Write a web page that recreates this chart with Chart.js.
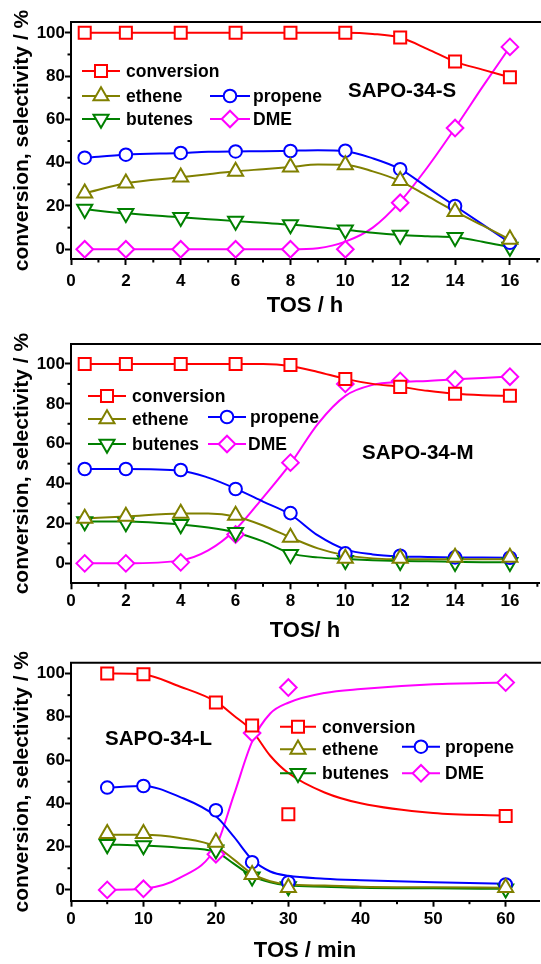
<!DOCTYPE html>
<html><head><meta charset="utf-8">
<script src="https://cdn.jsdelivr.net/npm/chart.js@4"></script>
<style>
html,body{margin:0;padding:0;background:#fff;width:541px;height:964px;overflow:hidden}
.p{position:absolute;left:0;width:541px}
</style></head><body>
<div class="p" style="top:0;height:318px"><canvas id="c1"></canvas></div>
<div class="p" style="top:318px;height:326px"><canvas id="c2"></canvas></div>
<div class="p" style="top:644px;height:320px"><canvas id="c3"></canvas></div>
<script>
// ---------- DATA ----------
const seriesNames = ['conversion', 'ethene', 'propene', 'butenes', 'DME'];

// SAPO-34-S (TOS / h)
const tosS     = [0.5, 2, 4, 6, 8, 10, 12, 14, 16];
const convS    = [100, 100, 100, 100, 100, 100, 97.8, 86.7, 79.5];
const etheneS  = [25.9, 30.5, 33.3, 36, 37.9, 39, 31.7, 17.4, 4.6];
const propeneS = [42.3, 43.7, 44.5, 45.2, 45.4, 45.5, 37, 20, 3];
const butenesS = [18.5, 16.6, 14.8, 13, 11.4, 9, 6.6, 5.5, 1];
const dmeS     = [0, 0, 0, 0, 0, 0, 21.5, 56, 93.5];
// fitted curves
const tosSFit     = [0.5, 2, 4, 5, 6, 7, 8, 9, 10, 11, 12, 13, 14, 15, 16];
const convSFit    = [100, 100, 100, 100, 100, 100, 100, 100, 100, 99.5, 97.8, 92.5, 86.7, 83, 79.5];
const etheneSFit  = [25.9, 30.5, 33.3, 34.7, 36, 37, 38, 39.2, 39, 36, 31.5, 24.5, 17.5, 11, 4.5];
const propeneSFit = [42.3, 43.7, 44.5, 45, 45.2, 45.3, 45.5, 45.7, 45.3, 42, 37, 28.5, 20, 11.5, 3];
const butenesSFit = [18.5, 16.6, 14.8, 13.9, 13, 12.2, 11.4, 10.3, 9, 7.6, 6.6, 6, 5.5, 3.5, 1];
const dmeSFit     = [0, 0, 0, 0, 0, 0, 0, 0.5, 3.5, 10, 22, 38, 56, 75, 93.5];

// SAPO-34-M (TOS / h)
const tosM     = [0.5, 2, 4, 6, 8, 10, 12, 14, 16];
const convM    = [100, 100, 100, 100, 99.5, 92.5, 88.5, 85, 84];
const etheneM  = [22.5, 23.5, 25, 24, 13, 2.5, 2.5, 3, 3];
const propeneM = [47.3, 47.3, 46.8, 37.3, 25.2, 5, 3.8, 3, 2.8];
const butenesM = [21, 20.5, 19.5, 15.5, 4.5, 1.5, 1, 0.5, 0.5];
const dmeM     = [0, 0, 0.5, 14.5, 50.5, 90, 91.5, 92.3, 93.6];
const tosMFit     = [0.5, 2, 4, 5, 6, 7, 8, 9, 10, 11, 12, 13, 14, 15, 16];
const convMFit    = [100, 100, 100, 100, 100, 100, 99, 96, 92.5, 90, 88.5, 86.5, 85, 84.3, 84];
const etheneMFit  = [22.5, 23.5, 25, 25, 23.5, 19, 13, 7.5, 4, 2.5, 2, 2, 2, 2, 2];
const propeneMFit = [47.3, 47.3, 46.5, 43, 37.5, 31, 24.5, 14, 7, 4.5, 3.5, 3.2, 3, 2.9, 2.8];
const butenesMFit = [21, 21, 19.5, 18, 15.5, 11, 5, 3, 2.2, 1.6, 1.2, 1, 0.8, 0.6, 0.5];
const dmeMFit     = [0, 0, 1.5, 6.5, 17, 33, 50, 70, 84, 89.5, 91, 91.5, 92.3, 93, 93.6];

// SAPO-34-L (TOS / min)
const tosL     = [5, 10, 20, 25, 30, 60];
const convL    = [100, 99.7, 86.6, 76, 35, 34.2];
const etheneL  = [26, 26, 22, 7, 1, 1];
const propeneL = [47.3, 48, 36.8, 12.8, 3.5, 2.5];
const butenesL = [21, 20.5, 18.5, 6, 1.5, 0.5];
const dmeL     = [0, 0.5, 16.5, 72.5, 93.5, 95.8];
const tosLFit     = [5, 10, 15, 20, 22.5, 25, 27.5, 30, 35, 40, 50, 60];
const convLFit    = [100, 99.5, 94, 87, 80.5, 73.5, 62, 54, 45, 40, 35.5, 34.3];
const etheneLFit  = [25.5, 25.5, 24, 20, 14, 7.5, 4, 2.5, 2, 1.5, 1.2, 1];
const propeneLFit = [47.3, 48, 43, 34, 24.5, 14, 8.5, 6.5, 5.2, 4.5, 3.5, 2.8];
const butenesLFit = [21, 20.5, 19.5, 17.5, 12, 6.5, 3.5, 2, 1.5, 1, 0.7, 0.5];
const dmeLFit     = [0, 0.5, 5.5, 20, 44, 68.5, 81.5, 86.5, 91, 92.8, 95, 95.8];

const yTicks = [0, 20, 40, 60, 80, 100];

// ---------- STYLE ----------
const FONT = '"Liberation Sans", Arial, Helvetica, sans-serif';
const styles = [
  {color: '#ff0000', pointStyle: 'rect', radius: 8.5, rotation: 0},
  {color: '#808000', pointStyle: 'triangle', radius: 8.7, rotation: 0},
  {color: '#0000ff', pointStyle: 'circle', radius: 6.3, rotation: 0},
  {color: '#008000', pointStyle: 'triangle', radius: 8.7, rotation: 180},
  {color: '#ff00ff', pointStyle: 'rectRot', radius: 8.3, rotation: 0}
];

function drawMarker(ctx, st, x, y) {
  const r = st.radius;
  ctx.save();
  ctx.fillStyle = '#fff'; ctx.strokeStyle = st.color; ctx.lineWidth = 2;
  ctx.beginPath();
  if (st.pointStyle === 'rect') {
    const s = r * Math.SQRT1_2; ctx.rect(x - s, y - s, 2 * s, 2 * s);
  } else if (st.pointStyle === 'circle') {
    ctx.arc(x, y, r, 0, Math.PI * 2);
  } else if (st.pointStyle === 'rectRot') {
    ctx.moveTo(x, y - r); ctx.lineTo(x + r, y); ctx.lineTo(x, y + r); ctx.lineTo(x - r, y); ctx.closePath();
  } else {
    let rad = st.rotation * Math.PI / 180;
    for (let k = 0; k < 3; k++) {
      const px = x + Math.sin(rad) * r, py = y - Math.cos(rad) * r;
      if (k === 0) ctx.moveTo(px, py); else ctx.lineTo(px, py);
      rad += 2 * Math.PI / 3;
    }
    ctx.closePath();
  }
  ctx.fill(); ctx.stroke();
  ctx.restore();
}

const decor = {
  id: 'decor',
  afterDatasetsDraw(chart, args, o) {
    const ctx = chart.ctx, a = chart.chartArea, xs = chart.scales.x, ys = chart.scales.y;
    ctx.save();
    // top frame line
    ctx.strokeStyle = '#000'; ctx.lineWidth = 2;
    ctx.beginPath(); ctx.moveTo(a.left - 1, a.top); ctx.lineTo(chart.width, a.top); ctx.stroke();
    // minor ticks
    ctx.lineWidth = 2;
    for (let v = xs.min + o.xMinor; v < xs.max; v += o.xMinor) {
      if (Math.abs(v / (2 * o.xMinor) - Math.round(v / (2 * o.xMinor))) < 1e-6) continue;
      const px = xs.getPixelForValue(v);
      ctx.beginPath(); ctx.moveTo(px, a.bottom); ctx.lineTo(px, a.bottom + 3.5); ctx.stroke();
    }
    for (let v = 10; v < ys.max; v += 20) {
      const py = ys.getPixelForValue(v);
      ctx.beginPath(); ctx.moveTo(a.left, py); ctx.lineTo(a.left - 3.5, py); ctx.stroke();
    }
    // legend
    ctx.font = 'bold 17.5px ' + FONT;
    ctx.textBaseline = 'middle'; ctx.textAlign = 'left';
    o.legend.forEach(it => {
      const st = styles[it.s];
      ctx.strokeStyle = st.color; ctx.lineWidth = 2;
      ctx.beginPath(); ctx.moveTo(it.x1, it.y); ctx.lineTo(it.x2, it.y); ctx.stroke();
      drawMarker(ctx, st, (it.x1 + it.x2) / 2, it.y);
      ctx.fillStyle = '#000';
      ctx.fillText(seriesNames[it.s], it.tx, it.y + 1);
    });
    // sample label
    ctx.font = 'bold 20.5px ' + FONT;
    ctx.fillStyle = '#000';
    ctx.fillText(o.label.text, o.label.x, o.label.y + 1);
    ctx.restore();
  }
};

function makePanel(id, p) {
  const datasets = [];
  p.fit.forEach((ys, i) => {
    datasets.push({
      data: p.xFit.map((x, k) => ({x, y: ys[k]})),
      showLine: true, borderColor: styles[i].color, borderWidth: 2,
      pointRadius: 0, cubicInterpolationMode: 'monotone', order: 2
    });
  });
  p.marks.forEach((ys, i) => {
    datasets.push({
      data: p.x.map((x, k) => ({x, y: ys[k]})),
      showLine: false, pointStyle: styles[i].pointStyle, pointRadius: styles[i].radius,
      pointRotation: styles[i].rotation,
      pointBorderColor: styles[i].color, pointBackgroundColor: '#fff', pointBorderWidth: 2,
      order: 1
    });
  });
  new Chart(document.getElementById(id), {
    type: 'scatter',
    data: {datasets},
    options: {
      responsive: true, maintainAspectRatio: false, animation: false,
      layout: {autoPadding: false, padding: {top: p.top, right: 2, left: 0, bottom: 0}},
      plugins: {legend: {display: false}, tooltip: {enabled: false},
        decor: {xMinor: p.xStep / 2, legend: p.legend, label: p.label}},
      scales: {
        x: {
          type: 'linear', min: 0, max: p.xMax,
          afterFit: s => { s.height = p.xH; s.paddingLeft = 0; s.paddingRight = 0; },
          ticks: {stepSize: p.xStep, includeBounds: false, padding: p.xPad, maxRotation: 0,
                  color: '#000', font: {family: FONT, weight: 'bold', size: 17}},
          grid: {drawOnChartArea: false, drawTicks: true, tickLength: 6, tickWidth: 2, tickColor: '#000'},
          border: {display: true, color: '#000', width: 2},
          title: {display: true, text: p.xTitle, color: '#000', padding: {top: 0, bottom: p.titlePad},
                  font: {family: FONT, weight: 'bold', size: 22, lineHeight: 1}}
        },
        y: {
          type: 'linear', min: p.yMin, max: p.yMax,
          afterFit: s => { s.width = 71; s.paddingTop = 0; s.paddingBottom = 0; },
          afterBuildTicks: s => { s.ticks = yTicks.map(v => ({value: v})); },
          ticks: {padding: 0, color: '#000', font: {family: FONT, weight: 'bold', size: 17}},
          grid: {drawOnChartArea: false, drawTicks: true, tickLength: 6, tickWidth: 2, tickColor: '#000'},
          border: {display: true, color: '#000', width: 2},
          title: {display: true, text: 'conversion, selectivity / %', color: '#000',
                  padding: {top: 11.5, bottom: 0},
                  font: {family: FONT, weight: 'bold', size: 21, lineHeight: 1}}
        }
      }
    },
    plugins: [decor]
  });
}

makePanel('c1', {
  x: tosS, marks: [convS, etheneS, propeneS, butenesS, dmeS],
  xFit: tosSFit, fit: [convSFit, etheneSFit, propeneSFit, butenesSFit, dmeSFit],
  xMax: 17.06, xStep: 2, yMin: -4.5, yMax: 105, top: 22, xH: 59, xPad: 5.7, titlePad: 1,
  xTitle: 'TOS / h',
  legend: [
    {s: 0, x1: 82, x2: 120, y: 71, tx: 126},
    {s: 1, x1: 82, x2: 120, y: 96, tx: 126},
    {s: 3, x1: 82, x2: 120, y: 119, tx: 126},
    {s: 2, x1: 210, x2: 250, y: 96, tx: 253},
    {s: 4, x1: 210, x2: 250, y: 119, tx: 253}
  ],
  label: {text: 'SAPO-34-S', x: 348, y: 90}
});

makePanel('c2', {
  x: tosM, marks: [convM, etheneM, propeneM, butenesM, dmeM],
  xFit: tosMFit, fit: [convMFit, etheneMFit, propeneMFit, butenesMFit, dmeMFit],
  xMax: 17.06, xStep: 2, yMin: -10, yMax: 110, top: 26, xH: 60.7, xPad: 1.4, titlePad: 2.5,
  xTitle: 'TOS/ h',
  legend: [
    {s: 0, x1: 88, x2: 126, y: 78, tx: 132},
    {s: 1, x1: 88, x2: 126, y: 101, tx: 132},
    {s: 3, x1: 88, x2: 126, y: 126, tx: 132},
    {s: 2, x1: 208, x2: 246, y: 99, tx: 250},
    {s: 4, x1: 208, x2: 246, y: 126, tx: 248}
  ],
  label: {text: 'SAPO-34-M', x: 362, y: 134}
});

makePanel('c3', {
  x: tosL, marks: [convL, etheneL, propeneL, butenesL, dmeL],
  xFit: tosLFit, fit: [convLFit, etheneLFit, propeneLFit, butenesLFit, dmeLFit],
  xMax: 64.6, xStep: 10, yMin: -5, yMax: 105, top: 18.7, xH: 63.3, xPad: 2, titlePad: 2,
  xTitle: 'TOS / min',
  legend: [
    {s: 0, x1: 280, x2: 316, y: 82.7, tx: 322},
    {s: 1, x1: 280, x2: 316, y: 105.3, tx: 322},
    {s: 3, x1: 280, x2: 316, y: 129.3, tx: 322},
    {s: 2, x1: 402, x2: 440, y: 102.7, tx: 445},
    {s: 4, x1: 402, x2: 440, y: 129.3, tx: 445}
  ],
  label: {text: 'SAPO-34-L', x: 105, y: 94.3}
});
</script>
</body></html>
